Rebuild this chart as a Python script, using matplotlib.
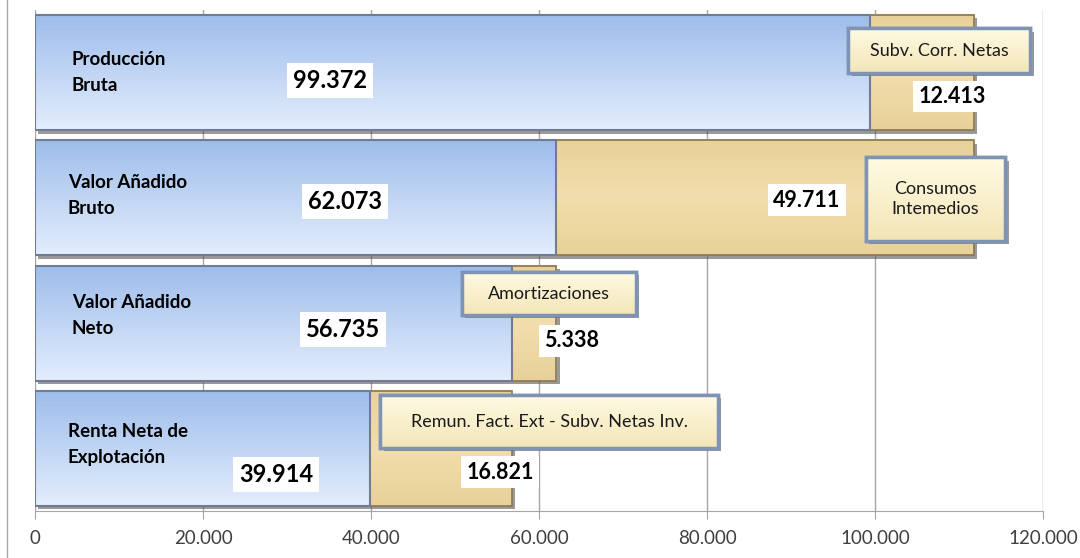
import numpy as np
import matplotlib
matplotlib.use("Agg")
import matplotlib.pyplot as plt
from matplotlib.ticker import FuncFormatter
from matplotlib.lines import Line2D
from matplotlib.patches import Rectangle
import matplotlib.patheffects as pe

plt.rcParams['font.family'] = ['Lato', 'DejaVu Sans']

categories = ["Producción\nBruta", "Valor Añadido\nBruto", "Valor Añadido\nNeto",
              "Renta Neta de\nExplotación"]
base_values = [99372, 62073, 56735, 39914]
extra_values = [12413, 49711, 5338, 16821]
extra_names = ["Subv. Corr. Netas", "Consumos\nIntemedios", "Amortizaciones",
               "Remun. Fact. Ext - Subv. Netas Inv."]
xticks = [0, 20000, 40000, 60000, 80000, 100000, 120000]

# label placement (x in data units, y as offset from bar centre)
cat_pos = [(4400, 0.0), (3900, -0.02), (4400, -0.06), (3900, -0.03)]
base_lbl_pos = [(35100, 0.06), (36900, 0.03), (36700, 0.05), (28700, 0.21)]
extra_lbl_pos = [(109200, 0.19), (91900, 0.02), (63900, 0.14), (55400, 0.19)]
# callout boxes: x0, x1, y0, y1 (y relative to bar centre)
box_ext = [(96800, 118500, -0.356, 0.003), (98900, 115500, -0.326, 0.344),
           (50800, 71500, -0.408, -0.065), (41100, 81300, -0.426, -0.003)]

def fmt(v):
    return f"{v:,.0f}".replace(",", ".")

fig = plt.figure(figsize=(10.8, 5.58), dpi=100)
ax = fig.add_axes([35 / 1080, 47 / 558, 1008 / 1080, 501 / 558])

h = 0.92
g = np.linspace(0, 1, 64).reshape(-1, 1, 1)
top_b, bot_b = np.array([0.62, 0.74, 0.92]), np.array([0.89, 0.93, 0.99])
blue_img = top_b + (bot_b - top_b) * g
top_t, mid_t = np.array([0.91, 0.82, 0.60]), np.array([0.95, 0.87, 0.68])
tan_img = mid_t + (top_t - mid_t) * np.abs(np.linspace(-1, 1, 64)).reshape(-1, 1, 1)
top_c, bot_c = np.array([1.0, 0.98, 0.89]), np.array([0.95, 0.90, 0.72])
box_img = top_c + (bot_c - top_c) * g

shadow = [pe.SimplePatchShadow(offset=(2.5, -2.5), shadow_rgbFace='#555555', alpha=0.6), pe.Normal()]

for i in range(len(categories)):
    y0, y1 = i - h / 2, i + h / 2
    b = base_values[i]
    e = extra_values[i]
    for left, width, col in [(0, b, '#c9d8f0'), (b, e, '#ead49c')]:
        ax.barh(i, width, left=left, height=h, color=col, zorder=2, path_effects=shadow)
    ax.imshow(tan_img, extent=[b, b + e, y1, y0], aspect='auto', zorder=3, interpolation='bilinear')
    ax.imshow(blue_img, extent=[0, b, y1, y0], aspect='auto', zorder=3, interpolation='bilinear')
    ax.barh(i, e, left=b, height=h, fill=False, edgecolor='#8a7650', lw=1.2, zorder=4)
    ax.barh(i, b, height=h, fill=False, edgecolor='#6f7c92', lw=1.5, zorder=5)

    ax.text(cat_pos[i][0], i + cat_pos[i][1], categories[i], fontsize=13.5, fontweight='bold',
            ha='left', va='center', linespacing=1.6, zorder=6)
    ax.text(base_lbl_pos[i][0], i + base_lbl_pos[i][1], fmt(b), fontsize=17, fontweight='bold',
            ha='center', va='center', zorder=6,
            bbox=dict(boxstyle='square,pad=0.25', fc='white', ec='none'))
    ax.text(extra_lbl_pos[i][0], i + extra_lbl_pos[i][1], fmt(e), fontsize=15.5, fontweight='bold',
            ha='center', va='center', zorder=6,
            bbox=dict(boxstyle='square,pad=0.25', fc='white', ec='none'))

    bx0, bx1, by0, by1 = box_ext[i]
    rect = Rectangle((bx0, i + by0), bx1 - bx0, by1 - by0, fc='#f8efc8', ec='#7f93b5', lw=2.5,
                     zorder=7, path_effects=shadow)
    ax.add_patch(rect)
    ax.imshow(box_img, extent=[bx0, bx1, i + by1, i + by0], aspect='auto', zorder=7.5,
              interpolation='bilinear')
    ax.add_patch(Rectangle((bx0, i + by0), bx1 - bx0, by1 - by0, fill=False, ec='#7f93b5',
                           lw=2.5, zorder=8))
    ax.text((bx0 + bx1) / 2, i + (by0 + by1) / 2, extra_names[i], fontsize=13,
            ha='center', va='center', zorder=9, linespacing=1.35, color='#1a1a1a')

ax.set_xlim(0, 120000)
ax.set_ylim(3.5, -0.5)
ax.set_xticks(xticks)
ax.xaxis.set_major_formatter(FuncFormatter(lambda v, p: fmt(v)))
ax.set_yticks([])
ax.grid(axis='x', color='#a6a6a6', lw=1)
ax.set_axisbelow(True)
for s in ['top', 'right', 'left']:
    ax.spines[s].set_visible(False)
ax.spines['bottom'].set_color('#a6a6a6')
ax.tick_params(axis='x', colors='#a6a6a6', length=6, labelsize=13.5, labelcolor='#404040', pad=8)

fig.add_artist(Line2D([7 / 1080, 7 / 1080], [0, 1], color='#a6a6a6', lw=1))

fig.savefig("out.png", dpi=100)
